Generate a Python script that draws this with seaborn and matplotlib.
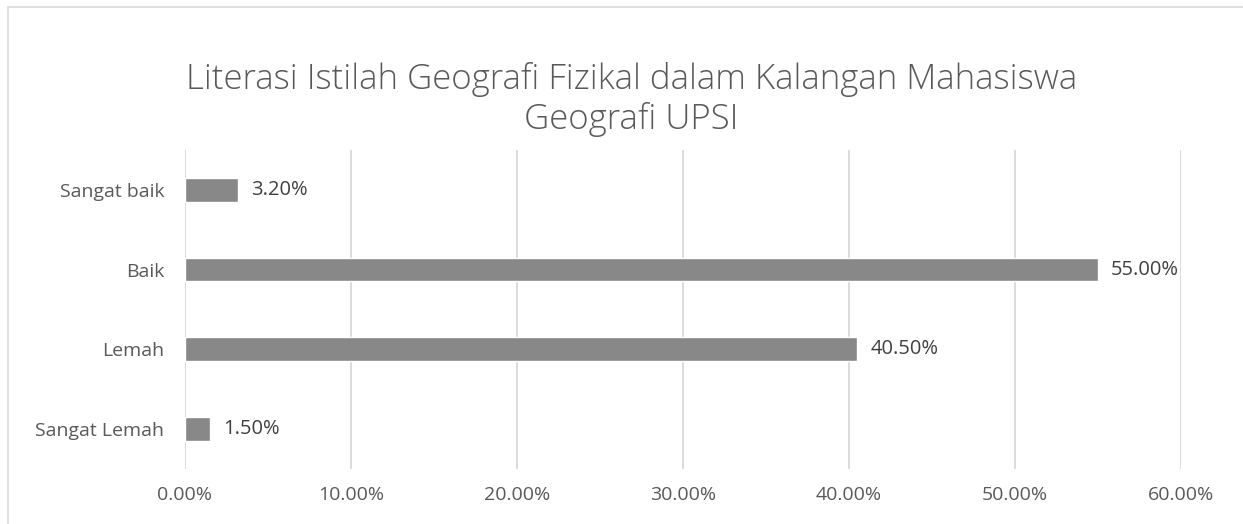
import pandas as pd
import matplotlib.pyplot as plt
import seaborn as sns
from matplotlib.ticker import PercentFormatter
from matplotlib.patches import Rectangle

sns.set_theme(style="white")
plt.rcParams['font.family'] = ['Open Sans', 'DejaVu Sans']

# Data
categories = ['Sangat baik', 'Baik', 'Lemah', 'Sangat Lemah']
values = [3.2, 55.0, 40.5, 1.5]
x_ticks = [0, 10, 20, 30, 40, 50, 60]

df = pd.DataFrame({'kategori': categories, 'peratus': values})

fig = plt.figure(figsize=(12.43, 5.24), dpi=100)
ax = fig.add_axes([0.1488, 0.105, 0.8012, 0.609])

sns.barplot(data=df, x='peratus', y='kategori', order=categories,
            color='#888888', saturation=1, width=0.3, ax=ax)

ax.set_xlim(0, 60)
ax.set_ylim(3.5, -0.5)
ax.set_xticks(x_ticks)
ax.xaxis.set_major_formatter(PercentFormatter(decimals=2))
ax.grid(axis='x', color='#d9d9d9', linewidth=1.3)
ax.set_axisbelow(True)
for side in ['top', 'right', 'bottom', 'left']:
    ax.spines[side].set_visible(False)
ax.tick_params(axis='both', length=0, labelsize=14, colors='#595959')
ax.tick_params(axis='y', pad=15)
ax.tick_params(axis='x', pad=12)
ax.set_xlabel('')
ax.set_ylabel('')

# Data labels
for i, v in enumerate(values):
    ax.text(v + 0.8, i, f'{v:.2f}%', va='center', ha='left',
            fontsize=14.5, color='#404040')

fig.text(0.508, 0.81, 'Literasi Istilah Geografi Fizikal dalam Kalangan Mahasiswa\nGeografi UPSI',
         ha='center', va='center', fontsize=25, color='#595959',
         fontweight='light', linespacing=1.2)

# Chart border
fig.patches.append(Rectangle((8 / 1243, -0.01), 1.2, 1 - 7 / 524 + 0.01,
                             transform=fig.transFigure, fill=False,
                             edgecolor='#d9d9d9', linewidth=1.2))

fig.savefig('out.png', dpi=100)
